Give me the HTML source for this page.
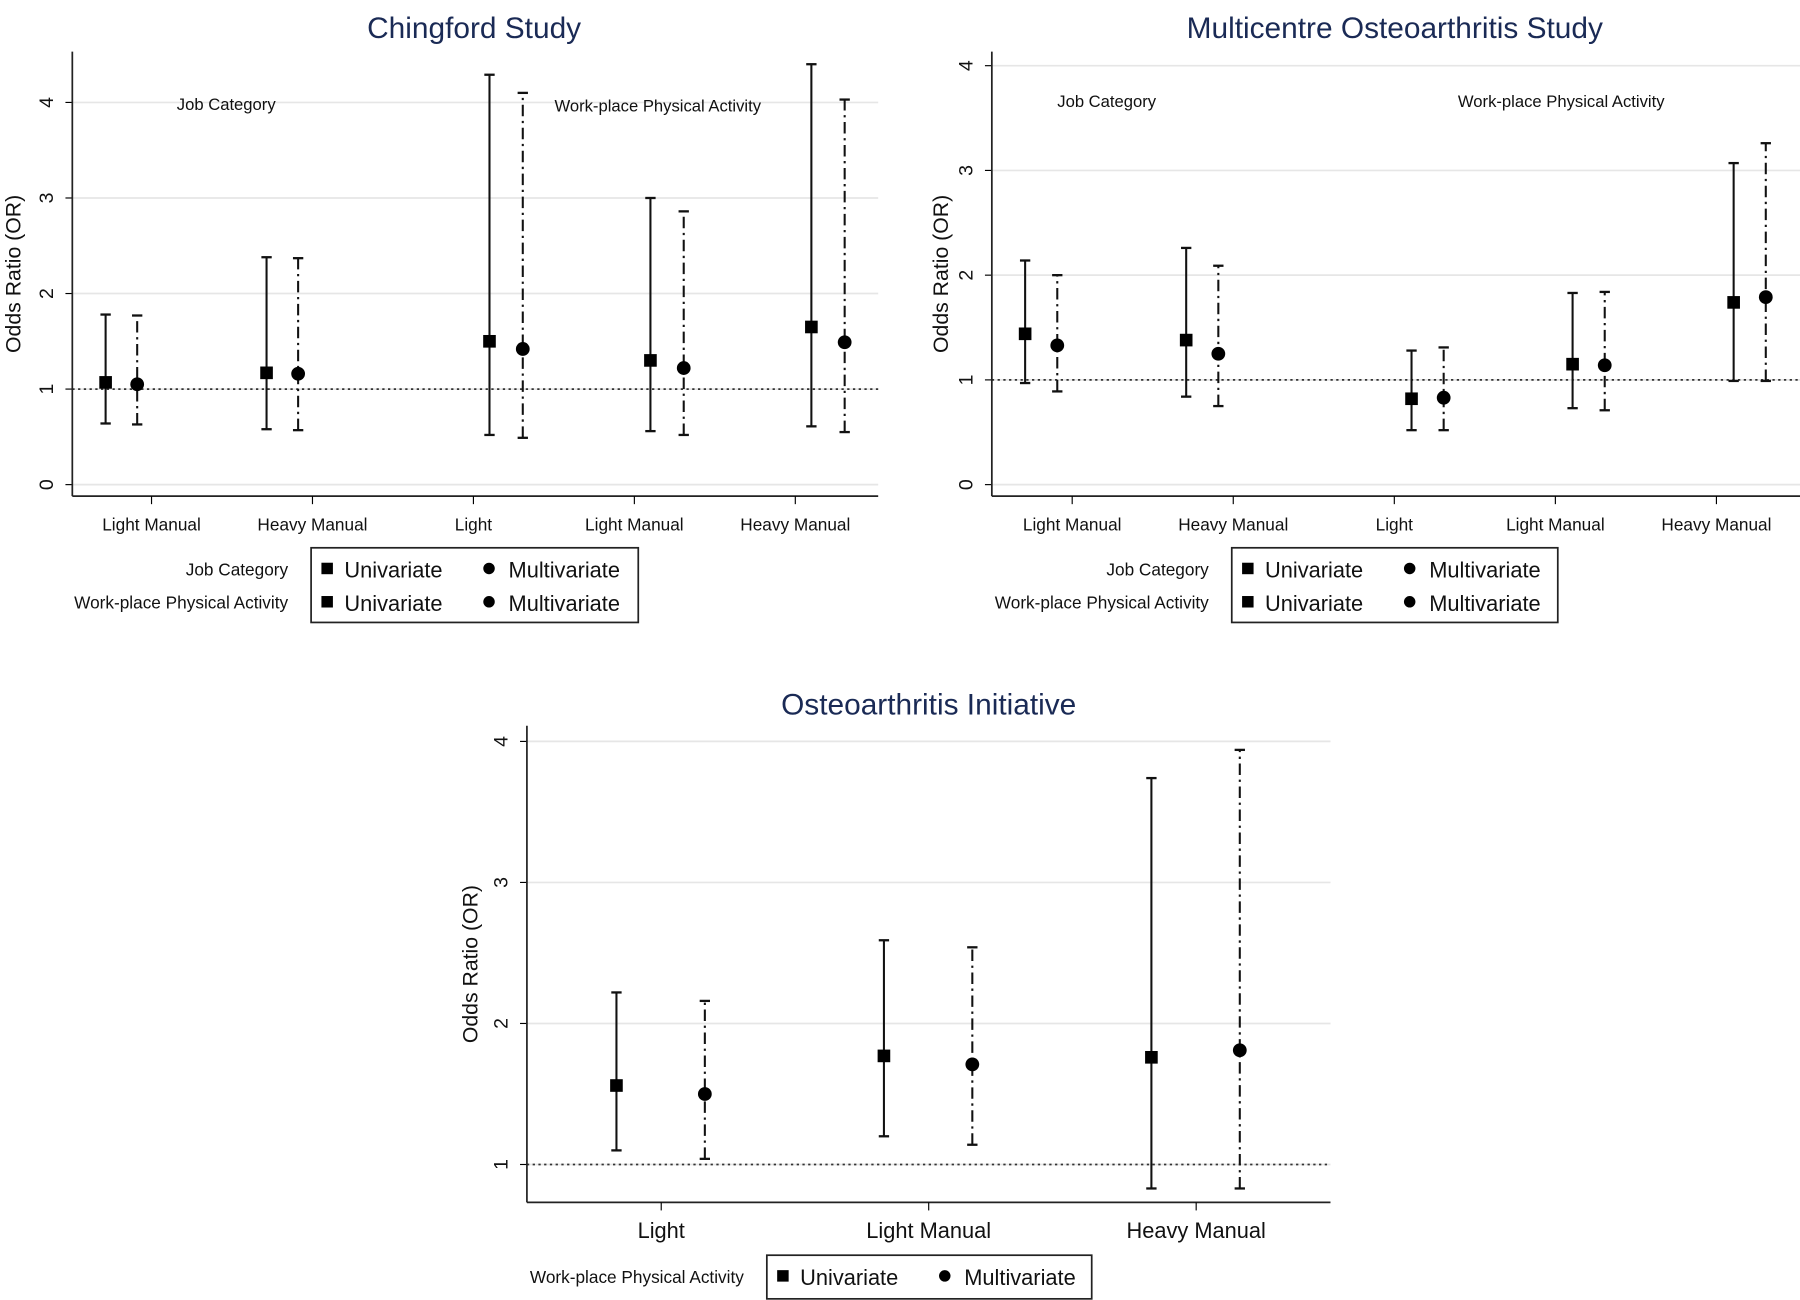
<!DOCTYPE html>
<html><head><meta charset="utf-8"><style>
html,body{margin:0;padding:0;background:#fff;}
svg{display:block;}
text{font-family:"Liberation Sans",sans-serif;}
</style></head><body>
<svg id="fig" width="1800" height="1300" viewBox="0 0 1568 1132" preserveAspectRatio="none" xmlns="http://www.w3.org/2000/svg"></svg>
<script>
// Chingford Study
const c1Categories = ["Light Manual","Heavy Manual","Light","Light Manual","Heavy Manual"];
const c1Group = ["job","job","wpa","wpa","wpa"];
const c1UniOR = [1.07,1.17,1.50,1.30,1.65];
const c1UniLo = [0.64,0.58,0.52,0.56,0.61];
const c1UniHi = [1.78,2.38,4.29,3.00,4.40];
const c1MultiOR = [1.05,1.16,1.42,1.22,1.49];
const c1MultiLo = [0.63,0.57,0.49,0.52,0.55];
const c1MultiHi = [1.77,2.37,4.10,2.86,4.03];
const c1Ticks = [0,1,2,3,4];
// Multicentre Osteoarthritis Study
const c2Categories = ["Light Manual","Heavy Manual","Light","Light Manual","Heavy Manual"];
const c2Group = ["job","job","wpa","wpa","wpa"];
const c2UniOR = [1.44,1.38,0.82,1.15,1.74];
const c2UniLo = [0.97,0.84,0.52,0.73,0.99];
const c2UniHi = [2.14,2.26,1.28,1.83,3.07];
const c2MultiOR = [1.33,1.25,0.83,1.14,1.79];
const c2MultiLo = [0.89,0.75,0.52,0.71,0.99];
const c2MultiHi = [2.00,2.09,1.31,1.84,3.26];
const c2Ticks = [0,1,2,3,4];
// Osteoarthritis Initiative
const c3Categories = ["Light","Light Manual","Heavy Manual"];
const c3Group = ["oai","oai","oai"];
const c3UniOR = [1.56,1.77,1.76];
const c3UniLo = [1.10,1.20,0.83];
const c3UniHi = [2.22,2.59,3.74];
const c3MultiOR = [1.50,1.71,1.81];
const c3MultiLo = [1.04,1.14,0.83];
const c3MultiHi = [2.16,2.54,3.94];
const c3Ticks = [1,2,3,4];

const NS="http://www.w3.org/2000/svg";
const svg=document.getElementById('fig');
function mk(tag,attrs,parent){const e=document.createElementNS(NS,tag);for(const k in attrs)e.setAttribute(k,attrs[k]);(parent||svg).appendChild(e);return e;}
function txt(s,attrs,parent){const e=mk('text',attrs,parent);e.textContent=s;return e;}

function chart(cfg){
  const g=mk('g',{});
  
  
  const y=v=>cfg.y0px-(v-cfg.y0val)*cfg.ppu;
  const xTick=i=>cfg.tick0+i*cfg.tickStep;
  const t=txt(cfg.title,{x:cfg.titleX,y:cfg.titleY,'text-anchor':'middle','font-size':cfg.titleSize,fill:'#1a2a55'},g);
  
  
  cfg.ticks.forEach(v=>{
    const gl=mk('line',{x1:cfg.left,x2:cfg.right,y1:y(v),y2:y(v),stroke:'#e6e6e6','stroke-width':1.5},g);
    
    
    mk('line',{x1:cfg.left-6,x2:cfg.left,y1:y(v),y2:y(v),stroke:'#000','stroke-width':1},g);
    const tl=txt(String(v),{x:cfg.left-17,y:y(v),'text-anchor':'middle','font-size':cfg.ySize,transform:`rotate(-90 ${cfg.left-17} ${y(v)})`,fill:'#111'},g);
    
    
  });
  const rl=mk('line',{x1:cfg.left,x2:cfg.right,y1:y(1),y2:y(1),stroke:'#333','stroke-width':1.5,'stroke-dasharray':'2,3'},g);
  
  
  mk('line',{x1:cfg.left,x2:cfg.left,y1:cfg.top,y2:cfg.bottom,stroke:'#222','stroke-width':1.5},g);
  mk('line',{x1:cfg.left,x2:cfg.right,y1:cfg.bottom,y2:cfg.bottom,stroke:'#222','stroke-width':1.5},g);
  const yt=txt('Odds Ratio (OR)',{x:cfg.ytX,y:(cfg.top+cfg.bottom)/2,'text-anchor':'middle','font-size':cfg.ytSize,transform:`rotate(-90 ${cfg.ytX} ${(cfg.top+cfg.bottom)/2})`,fill:'#111'},g);
  
  
  cfg.cats.forEach((c,i)=>{
    mk('line',{x1:xTick(i),x2:xTick(i),y1:cfg.bottom,y2:cfg.bottom+7,stroke:'#000','stroke-width':1},g);
    const xl=txt(c,{x:xTick(i),y:cfg.bottom+cfg.xLabDy,'text-anchor':'middle','font-size':cfg.xSize,fill:'#111'},g);
    
    
  });
  function bar(xp,lo,hi,dash,nm){
    const l=mk('line',{x1:xp,x2:xp,y1:y(lo),y2:y(hi),stroke:'#111','stroke-width':1.8,'stroke-dasharray':dash},g);
    
    
    mk('line',{x1:xp-4.5,x2:xp+4.5,y1:y(lo),y2:y(lo),stroke:'#111','stroke-width':2},g);
    mk('line',{x1:xp-4.5,x2:xp+4.5,y1:y(hi),y2:y(hi),stroke:'#111','stroke-width':2},g);
  }
  cfg.cats.forEach((c,i)=>{
    const off=cfg.offsets[cfg.group[i]];
    const xu=xTick(i)+off[0], xm=xTick(i)+off[1];
    bar(xu,cfg.uLo[i],cfg.uHi[i],'none','univariate-ci');
    bar(xm,cfg.mLo[i],cfg.mHi[i],'10,4,2,4','multivariate-ci');
    const s=mk('rect',{x:xu-5.5,y:y(cfg.uOR[i])-5.5,width:11,height:11,fill:'#000'},g);
    
    
    const ci=mk('circle',{cx:xm,cy:y(cfg.mOR[i]),r:6,fill:'#000'},g);
    
    
  });
  (cfg.notes||[]).forEach(n=>{
    const a=txt(n.t,{x:n.x,y:n.y,'font-size':14.5,fill:'#111'},g);
    
    
  });
  const L=cfg.legend;
  const lb=mk('rect',{x:L.x,y:L.y,width:L.w,height:L.h,fill:'#fff',stroke:'#222','stroke-width':1.5},g);
  
  
  L.rows.forEach((r,k)=>{
    const ry=L.rowY[k];
    const rl2=txt(r,{x:L.x-20,y:ry+5,'text-anchor':'end','font-size':15,fill:'#111'},g);
    
    
    mk('rect',{x:L.x+9,y:ry-6,width:10,height:10,fill:'#000'},g);
    const e1=txt('Univariate',{x:L.x+29,y:ry+7,'font-size':19,fill:'#111'},g);
    
    
    mk('circle',{cx:L.x+155,cy:ry-1,r:5,fill:'#000'},g);
    const e2=txt('Multivariate',{x:L.x+172,y:ry+7,'font-size':19,fill:'#111'},g);
    
    
  });
}

chart({name:'chingford-chart',title:'Chingford Study',titleX:413,titleY:33,titleSize:26,
  left:63,right:765,top:45,bottom:432,y0px:422,y0val:0,ppu:83.2,ticks:c1Ticks,ySize:17,ytX:18,ytSize:18.5,
  tick0:132,tickStep:140.2,cats:c1Categories,group:c1Group,xSize:15,xLabDy:30,
  offsets:{job:[-40,-12.5],wpa:[14,43]},
  uOR:c1UniOR,uLo:c1UniLo,uHi:c1UniHi,mOR:c1MultiOR,mLo:c1MultiLo,mHi:c1MultiHi,
  notes:[{t:'Job Category',x:154,y:96},{t:'Work-place Physical Activity',x:483,y:97}],
  legend:{x:271,y:477,w:285,h:65,rows:['Job Category','Work-place Physical Activity'],rowY:[496,525]}});

chart({name:'multicentre-chart',title:'Multicentre Osteoarthritis Study',titleX:1215,titleY:33,titleSize:26,
  left:864,right:1568,top:45,bottom:432,y0px:422,y0val:0,ppu:91.2,ticks:c2Ticks,ySize:17,ytX:826,ytSize:18.5,
  tick0:934,tickStep:140.3,cats:c2Categories,group:c2Group,xSize:15,xLabDy:30,
  offsets:{job:[-41,-13],wpa:[15,43]},
  uOR:c2UniOR,uLo:c2UniLo,uHi:c2UniHi,mOR:c2MultiOR,mLo:c2MultiLo,mHi:c2MultiHi,
  notes:[{t:'Job Category',x:921,y:93},{t:'Work-place Physical Activity',x:1270,y:93}],
  legend:{x:1073,y:477,w:284,h:65,rows:['Job Category','Work-place Physical Activity'],rowY:[496,525]}});

chart({name:'oai-chart',title:'Osteoarthritis Initiative',titleX:809,titleY:622,titleSize:26,
  left:459,right:1159,top:632,bottom:1047,y0px:1014,y0val:1,ppu:122.8,ticks:c3Ticks,ySize:17,ytX:416,ytSize:18.5,
  tick0:576,tickStep:233,cats:c3Categories,group:c3Group,xSize:19,xLabDy:31,
  offsets:{oai:[-39,38]},
  uOR:c3UniOR,uLo:c3UniLo,uHi:c3UniHi,mOR:c3MultiOR,mLo:c3MultiLo,mHi:c3MultiHi,
  notes:[],
  legend:{x:668,y:1093,w:283,h:38,rows:['Work-place Physical Activity'],rowY:[1112]}});
</script>
</body></html>
